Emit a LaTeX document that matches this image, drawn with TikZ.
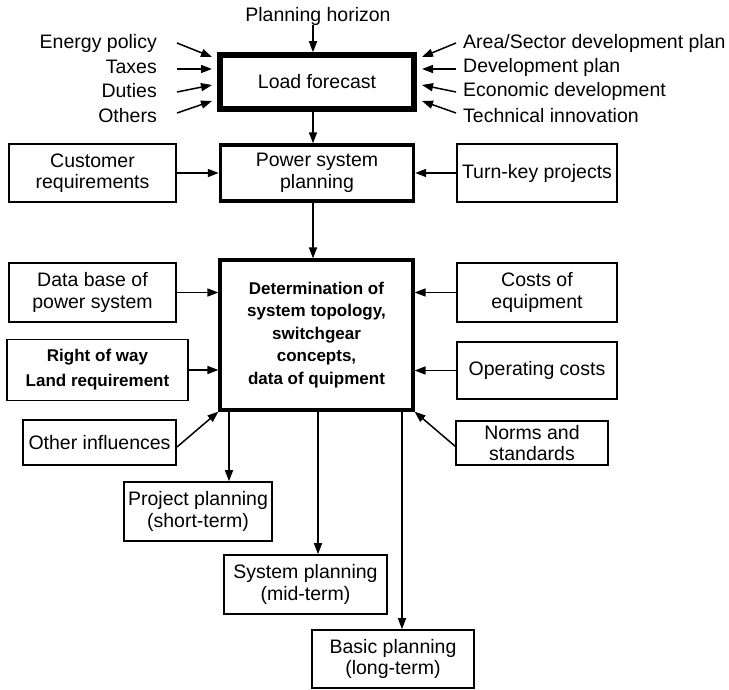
\documentclass[tikz,border=0pt]{standalone}
\usepackage{fontspec}
\setmainfont{Liberation Sans}
\usetikzlibrary{arrows.meta}
\tikzset{
  txt/.style={inner sep=0pt, font=\fontsize{19.5}{21.5}\selectfont, text=black},
  box/.style={draw, line width=1.6pt, inner sep=0pt, align=center, font=\fontsize{19.5}{21.5}\selectfont},
  bbox/.style={box, font=\bfseries\fontsize{17}{22.5}\selectfont},
  arr/.style={line width=1.5pt, -{Triangle[length=11pt,width=8pt]}}
}
\begin{document}
\begin{tikzpicture}[x=1pt,y=-1pt]
\useasboundingbox (0,0) rectangle (729,690);
% main boxes
\node[box, line width=5.5pt, minimum width=194, minimum height=54] (lf) at (317,82) {Load forecast};
\node[box, line width=3.4pt, minimum width=193, minimum height=56] (psp) at (317,173) {Power system\\planning};
\node[bbox, line width=3.2pt, minimum width=193, minimum height=150] (det) at (316.5,335) {Determination of\\system topology,\\switchgear\\concepts,\\data of quipment};
% top text
\node[txt] (ph) at (318,16) {Planning horizon};
\node[txt, anchor=east] (ep) at (157,43) {Energy policy};
\node[txt, anchor=east] (tx) at (157,67) {Taxes};
\node[txt, anchor=east] (du) at (157,91) {Duties};
\node[txt, anchor=east] (ot) at (157,116) {Others};
\node[txt, anchor=west] (as) at (463,43) {Area/Sector development plan};
\node[txt, anchor=west] (dp) at (463,67) {Development plan};
\node[txt, anchor=west] (ed) at (463,91) {Economic development};
\node[txt, anchor=west] (ti) at (463,116) {Technical innovation};
% side boxes
\node[box, minimum width=167, minimum height=58] (cust) at (92.5,173) {Customer\\requirements};
\node[box, minimum width=160, minimum height=58] (tk) at (537,173) {Turn-key projects};
\node[box, minimum width=167, minimum height=59] (db) at (92.5,292.5) {Data base of\\power system};
\node[bbox, font=\bfseries\fontsize{17}{25}\selectfont, minimum width=181, minimum height=61] (row) at (97.5,370) {Right of way\\Land requirement};
\node[box, minimum width=160, minimum height=59] (co) at (537,292.5) {Costs of\\equipment};
\node[box, minimum width=160, minimum height=57] (oc) at (537,370.5) {Operating costs};
\node[box, minimum width=153, minimum height=45] (oi) at (99.5,442.5) {Other influences};
\node[box, minimum width=152, minimum height=44, font=\fontsize{19.5}{21}\selectfont] (ns) at (532,443) {Norms and\\standards};
% bottom boxes
\node[box, minimum width=148, minimum height=59] (pp) at (198,511.5) {Project planning\\(short-term)};
\node[box, minimum width=163, minimum height=59] (sp) at (305.5,584.5) {System planning\\(mid-term)};
\node[box, minimum width=162, minimum height=58] (bp) at (393,659) {Basic planning\\(long-term)};
% coordinates
\coordinate (xa) at (313,0);
\coordinate (l1s) at (177,43);  \coordinate (l1e) at (212,57);
\coordinate (l2s) at (177,69);  \coordinate (l2e) at (212,69);
\coordinate (l3s) at (177,92);  \coordinate (l3e) at (212,85);
\coordinate (l4s) at (177,113); \coordinate (l4e) at (212,101);
\coordinate (r1s) at (456,43);  \coordinate (r1e) at (422,57);
\coordinate (r2s) at (456,69);  \coordinate (r2e) at (422,69);
\coordinate (r3s) at (456,92);  \coordinate (r3e) at (422,85);
\coordinate (r4s) at (456,113); \coordinate (r4e) at (422,101);
\coordinate (oie) at (177,447); \coordinate (nss) at (456,447);
\coordinate (b1) at (229,0); \coordinate (b2) at (318,0); \coordinate (b3) at (402,0);
% arrows top
\draw[arr] (ph.south -| xa) -- (lf.north -| xa);
\draw[arr] (l1s) -- (l1e);
\draw[arr] (l2s) -- (l2e);
\draw[arr] (l3s) -- (l3e);
\draw[arr] (l4s) -- (l4e);
\draw[arr] (r1s) -- (r1e);
\draw[arr] (r2s) -- (r2e);
\draw[arr] (r3s) -- (r3e);
\draw[arr] (r4s) -- (r4e);
\draw[arr] (lf.south -| xa) -- (psp.north -| xa);
\draw[arr] (cust.east) -- (cust.east -| psp.west);
\draw[arr] (tk.west) -- (tk.west -| psp.east);
\draw[arr] (psp.south -| xa) -- (det.north -| xa);
% arrows into det
\draw[arr] (db.east) -- (db.east -| det.west);
\draw[arr] (row.east) -- (row.east -| det.west);
\draw[arr] (co.west) -- (co.west -| det.east);
\draw[arr] (oc.west) -- (oc.west -| det.east);
\draw[arr] (oie) -- (det.south west);
\draw[arr] (nss) -- (det.south east);
% arrows out of det
\draw[arr] (det.south -| b1) -- (pp.north -| b1);
\draw[arr] (det.south -| b2) -- (sp.north -| b2);
\draw[arr] (det.south -| b3) -- (bp.north -| b3);
\end{tikzpicture}
\end{document}
